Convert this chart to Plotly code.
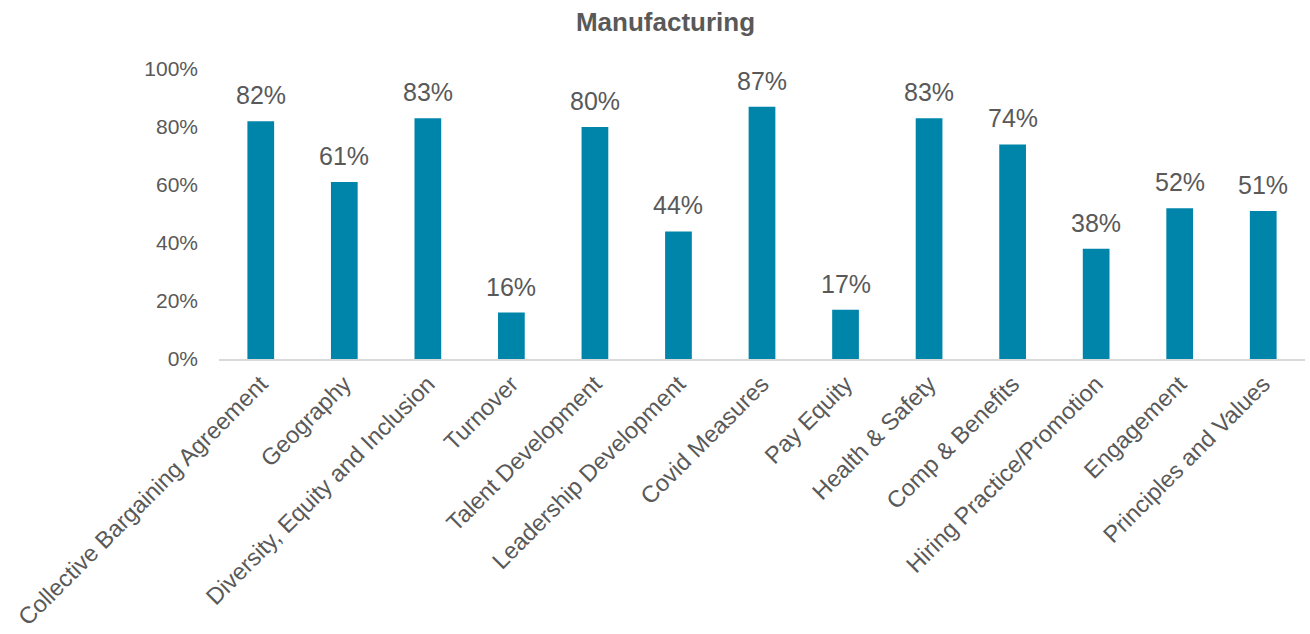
import plotly.graph_objects as go

categories = [
    "Collective Bargaining Agreement", "Geography", "Diversity, Equity and Inclusion",
    "Turnover", "Talent Development", "Leadership Development", "Covid Measures",
    "Pay Equity", "Health & Safety", "Comp & Benefits", "Hiring Practice/Promotion",
    "Engagement", "Principles and Values",
]
shares = [0.82, 0.61, 0.83, 0.16, 0.80, 0.44, 0.87, 0.17, 0.83, 0.74, 0.38, 0.52, 0.51]
y_ticks = [0, 0.2, 0.4, 0.6, 0.8, 1.0]

BAR = "#0085AA"
TEXT = "#595959"
FONT = "Liberation Sans, Arial, sans-serif"

fig = go.Figure(go.Bar(x=categories, y=shares, marker_color=BAR, marker_line_width=0))

for c, v in zip(categories, shares):
    fig.add_annotation(
        x=c, y=v, text=f"{round(v * 100)}%", showarrow=False,
        yanchor="bottom", yshift=10, font=dict(size=25, color=TEXT, family=FONT),
    )

fig.update_layout(
    width=1310, height=634,
    margin=dict(l=219, r=5, t=69, b=275, autoexpand=False),
    paper_bgcolor="white", plot_bgcolor="white",
    bargap=0.68,
    showlegend=False,
    font=dict(family=FONT, color=TEXT),
    title=dict(text="<b>Manufacturing</b>", x=0.508, xanchor="center", y=0.965, yanchor="middle",
               font=dict(size=26, color=TEXT, family=FONT)),
    xaxis=dict(tickangle=-45, tickfont=dict(size=23.5, color=TEXT), showline=True, automargin=False,
               linecolor="#D9D9D9", linewidth=2, ticks="", showgrid=False),
    yaxis=dict(range=[0, 1], tickvals=y_ticks, tickformat=".0%", tickfont=dict(size=21, color=TEXT),
               automargin=False, showgrid=False, zeroline=False, showline=False, ticks="",
               ticklabelstandoff=20),
)

fig.write_html("out.html")
